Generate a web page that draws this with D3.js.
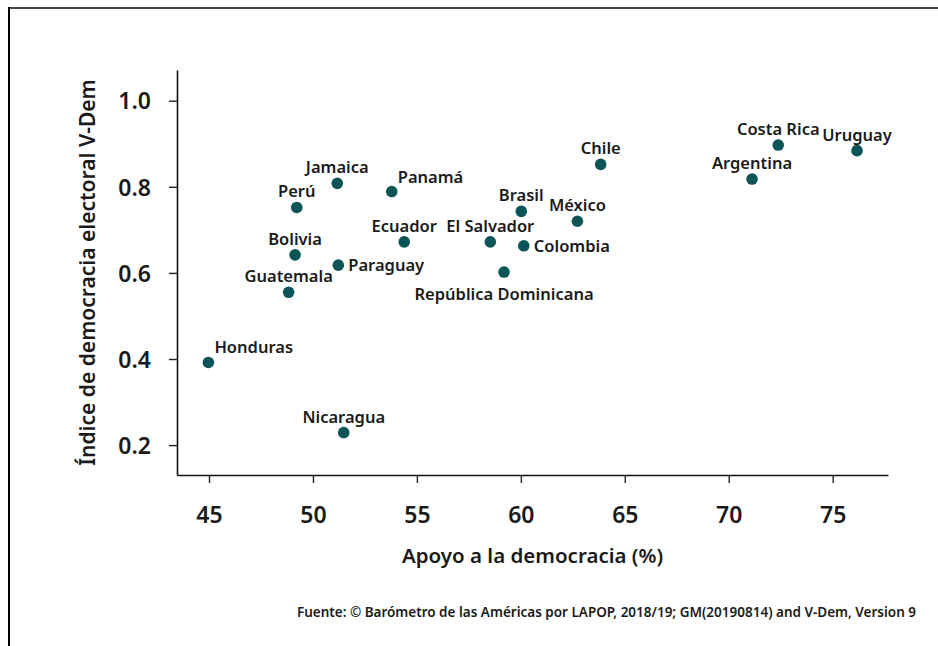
<!DOCTYPE html>
<html>
<head>
<meta charset="utf-8">
<script src="https://cdn.jsdelivr.net/npm/d3@7/dist/d3.min.js"></script>
<style>
  html, body { margin: 0; padding: 0; background: #fff; }
  svg { display: block; font-family: "Noto Sans", "Open Sans", sans-serif; }
</style>
</head>
<body>
<svg id="chart" width="938" height="646"></svg>
<script>
// ---- data ----
const countries = ["Honduras","Guatemala","Bolivia","Perú","Jamaica","Paraguay","Nicaragua","Panamá","Ecuador","El Salvador","República Dominicana","Brasil","Colombia","México","Chile","Argentina","Costa Rica","Uruguay"];
const support   = [44.97, 48.83, 49.14, 49.22, 51.17, 51.22, 51.48, 53.79, 54.39, 58.53, 59.19, 60.02, 60.14, 62.72, 63.84, 71.12, 72.38, 76.17];
const vdem      = [0.392, 0.555, 0.642, 0.752, 0.808, 0.618, 0.229, 0.789, 0.672, 0.672, 0.602, 0.743, 0.663, 0.720, 0.852, 0.818, 0.897, 0.884];
const xTicks = [45, 50, 55, 60, 65, 70, 75];
const yTicks = [0.2, 0.4, 0.6, 0.8, 1.0];
const xTitle = "Apoyo a la democracia (%)";
const yTitle = "Índice de democracia electoral V-Dem";
const source = "Fuente: © Barómetro de las Américas por LAPOP, 2018/19; GM(20190814) and V-Dem, Version 9";

(function () {
// ---- layout (label placement, not data) ----
const labelSide = {"Honduras":"aboveRight","Panamá":"aboveRight","Paraguay":"right","Colombia":"right","República Dominicana":"below"};
const placement = {
  above:      {anchor:"middle", dx: 0,  dy: -10},
  right:      {anchor:"start",  dx: 10, dy: 6},
  below:      {anchor:"middle", dx: 0,  dy: 28},
  aboveRight: {anchor:"start",  dx: 6,  dy: -9}
};

const svg = d3.select("#chart");
const W = 938, H = 646;

// frame
svg.append("line").attr("x1", 8).attr("x2", W).attr("y1", 8).attr("y2", 8)
  .attr("stroke", "#444").attr("stroke-width", 2);
svg.append("line").attr("x1", 9).attr("x2", 9).attr("y1", 7).attr("y2", H)
  .attr("stroke", "#000").attr("stroke-width", 2);

const mL = 177, mR = 888, mT = 70, mB = 475;

const x = d3.scaleLinear().domain([43.46, 77.66]).range([mL, mR]);
const y = d3.scaleLinear().domain([0.1306, 1.0713]).range([mB, mT]);

const xAxis = d3.axisBottom(x).tickValues(xTicks).tickSize(8).tickSizeOuter(0).tickPadding(24).tickFormat(d3.format("d"));
const yAxis = d3.axisLeft(y).tickValues(yTicks).tickSize(8).tickSizeOuter(0).tickPadding(18).tickFormat(d3.format(".1f"));

const gx = svg.append("g").attr("transform", `translate(0,${mB})`).call(xAxis);
const gy = svg.append("g").attr("transform", `translate(${mL},0)`).call(yAxis);

[gx, gy].forEach(g => {
  g.select(".domain").attr("stroke", "#111").attr("stroke-width", 1.6);
  g.selectAll(".tick line").attr("stroke", "#222").attr("stroke-width", 1.4);
  g.selectAll(".tick text").attr("fill", "#1a1a1a").attr("font-size", 23).attr("font-weight", 600)
    .attr("font-family", "'Noto Sans', sans-serif");
});
gy.selectAll(".tick text").attr("dy", "0.36em");

// axis titles
svg.append("text").attr("x", (mL + mR) / 2).attr("y", 563)
  .attr("text-anchor", "middle").attr("font-size", 20.5).attr("font-weight", 600).attr("fill", "#1a1a1a")
  .text(xTitle);
svg.append("text").attr("transform", `translate(95,${(mT + mB) / 2}) rotate(-90)`)
  .attr("text-anchor", "middle").attr("font-size", 21).attr("font-weight", 600).attr("fill", "#1a1a1a")
  .text(yTitle);

// source
svg.append("text").attr("x", 916).attr("y", 617).attr("text-anchor", "end")
  .attr("font-size", 13.5).attr("font-weight", 600).attr("fill", "#1a1a1a").text(source);

// points
const data = countries.map((c, i) => ({name: c, sx: support[i], vy: vdem[i]}));
svg.append("g").selectAll("circle").data(data).join("circle")
  .attr("cx", d => x(d.sx)).attr("cy", d => y(d.vy)).attr("r", 5.8).attr("fill", "#0b5558");

// labels
svg.append("g").selectAll("text").data(data).join("text")
  .each(function(d) {
    const p = placement[labelSide[d.name] || "above"];
    d3.select(this).attr("x", x(d.sx) + p.dx).attr("y", y(d.vy) + p.dy).attr("text-anchor", p.anchor);
  })
  .attr("font-size", 16.5).attr("font-weight", 600).attr("fill", "#1a1a1a")
  .text(d => d.name);
})();
</script>
</body>
</html>
